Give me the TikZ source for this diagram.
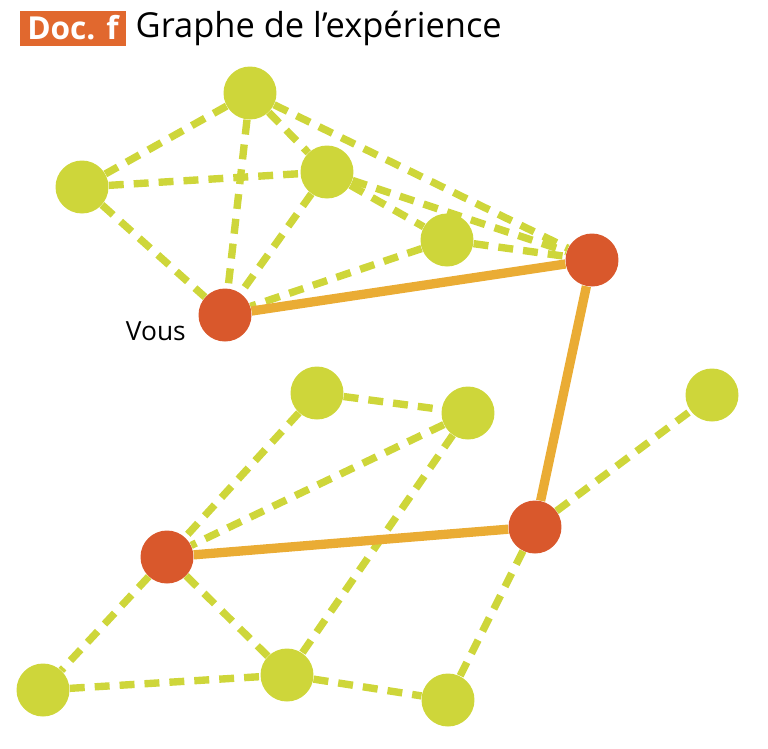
\documentclass[tikz,border=0pt]{standalone}
\usepackage{fontspec}
\setmainfont{Open Sans}
\usetikzlibrary{positioning}

\definecolor{jaune}{RGB}{206,214,58}
\definecolor{rouge}{RGB}{217,88,44}
\definecolor{orangeLien}{RGB}{234,172,52}
\definecolor{orangeDoc}{RGB}{225,104,46}

\tikzset{
  ami/.style={circle, fill=jaune, minimum size=1.06cm, inner sep=0},
  moi/.style={circle, fill=rouge, minimum size=1.06cm, inner sep=0},
  lien/.style={draw=jaune, line width=4.2pt, dash pattern=on 8.5pt off 5.7pt},
  chemin/.style={draw=orangeLien, line width=5.3pt}
}

\begin{document}
\begin{tikzpicture}[x=0.02cm, y=-0.02cm]
  \useasboundingbox (0,0) rectangle (768,748);

  % Titre
  \node[fill=orangeDoc, text=white, font=\bfseries\fontsize{18}{20}\selectfont,
        minimum width=2.12cm, minimum height=0.7cm, inner sep=0] (doc) at (73,28) {Doc. f};
  \node[right=0.18cm of doc, inner sep=0, font=\fontsize{19.6}{22}\selectfont] (titre) {Graphe de l'expérience};

  % Groupe du haut
  \node[ami] (a) at (250,93) {};
  \node[ami] (b) at (82,187) {};
  \node[ami] (c) at (327,172) {};
  \node[ami] (d) at (447,240) {};
  \node[moi] (vous) at (225,315) {};
  \node[moi] (r1) at (592,260) {};
  \node[left=0.24cm of vous, yshift=-0.32cm, inner sep=0, font=\fontsize{15}{17}\selectfont] (vousTexte) {Vous};

  % Groupe du bas
  \node[ami] (e) at (317,393) {};
  \node[ami] (f) at (468,413) {};
  \node[ami] (g) at (712,395) {};
  \node[moi] (r2) at (535,527) {};
  \node[moi] (r3) at (167,557) {};
  \node[ami] (h) at (43,690) {};
  \node[ami] (i) at (287,675) {};
  \node[ami] (j) at (448,700) {};

  % Liens en pointillés
  \draw[lien] (a) -- (b);  \draw[lien] (a) -- (c);
  \draw[lien] (a) -- (vous); \draw[lien] (a) -- (r1);
  \draw[lien] (b) -- (c);  \draw[lien] (b) -- (vous);
  \draw[lien] (c) -- (vous); \draw[lien] (c) -- (d); \draw[lien] (c) -- (r1);
  \draw[lien] (d) -- (vous); \draw[lien] (d) -- (r1);

  \draw[lien] (e) -- (f);  \draw[lien] (e) -- (r3);
  \draw[lien] (f) -- (r3); \draw[lien] (f) -- (i);
  \draw[lien] (r3) -- (h); \draw[lien] (r3) -- (i);
  \draw[lien] (h) -- (i);  \draw[lien] (i) -- (j);
  \draw[lien] (r2) -- (g); \draw[lien] (r2) -- (j);

  % Chemin
  \draw[chemin] (vous) -- (r1);
  \draw[chemin] (r1) -- (r2);
  \draw[chemin] (r2) -- (r3);
\end{tikzpicture}
\end{document}
